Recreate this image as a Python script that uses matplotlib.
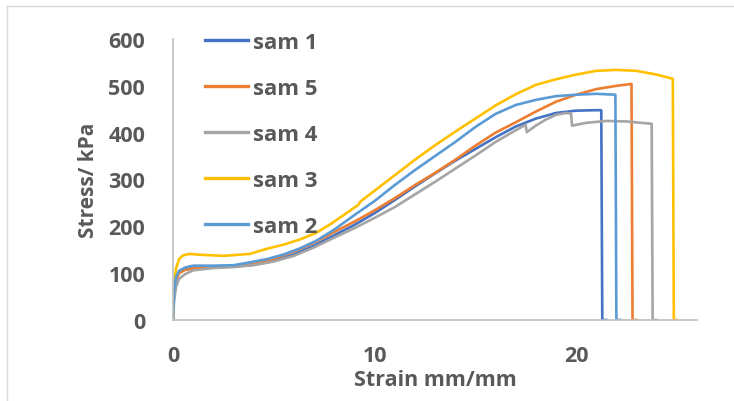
import matplotlib.pyplot as plt
from matplotlib.lines import Line2D

# stress-strain readings, one pair of lists per sample
sam1_strain = [0, 0.05, 0.15, 0.3, 0.6, 1.0, 2.0, 3.0, 4.0, 5.0, 6.0, 7.0, 8.0, 9.0, 10.0, 11.0, 12.0, 13.0, 14.0, 15.0, 16.0, 17.0, 18.0, 19.0, 20.0, 21.0, 21.25, 21.3, 21.5]
sam1_stress = [0, 55, 88, 102, 108, 111, 113, 115, 118, 126, 140, 159, 181, 203, 228, 256, 285, 313, 340, 365, 390, 413, 430, 442, 447, 448, 448, 0, 0]

sam5_strain = [0, 0.05, 0.15, 0.3, 0.6, 1.0, 2.0, 3.0, 4.0, 5.0, 6.0, 7.0, 8.0, 9.0, 10.0, 11.0, 12.0, 13.0, 14.0, 15.0, 16.0, 17.0, 18.0, 19.0, 20.0, 21.0, 22.0, 22.75, 22.8, 23.0]
sam5_stress = [0, 50, 85, 100, 107, 110, 112, 114, 119, 131, 146, 165, 188, 210, 234, 260, 288, 314, 342, 372, 400, 422, 445, 466, 481, 493, 500, 504, 0, 0]

sam4_strain = [0, 0.05, 0.15, 0.3, 0.6, 1.0, 2.0, 3.0, 4.0, 5.0, 6.0, 7.0, 8.0, 9.0, 10.0, 11.0, 12.0, 13.0, 14.0, 15.0, 16.0, 17.0, 17.5, 17.55, 18.0, 18.5, 19.0, 19.5, 19.75, 19.8, 20.5, 21.5, 22.5, 23.75, 23.8, 24.0]
sam4_stress = [0, 40, 70, 88, 98, 106, 111, 113, 117, 125, 137, 155, 176, 196, 218, 241, 268, 295, 323, 351, 380, 405, 417, 401, 415, 428, 438, 442, 441, 415, 421, 425, 424, 419, 0, 0]

sam3_strain = [0, 0.05, 0.15, 0.3, 0.5, 0.8, 1.5, 2.5, 3.8, 4.65, 5.5, 6.3, 7.1, 7.9, 8.5, 9.2, 9.3, 10.0, 11.0, 12.0, 13.0, 14.0, 15.0, 16.0, 17.0, 18.0, 19.0, 20.0, 21.0, 22.0, 23.0, 24.0, 24.8, 24.85, 25.0]
sam3_stress = [0, 70, 110, 130, 138, 141, 139, 137, 141, 152, 161, 172, 186, 207, 225, 246, 253, 276, 309, 342, 373, 402, 430, 458, 482, 502, 514, 524, 532, 534, 532, 524, 515, 0, 0]

sam2_strain = [0, 0.05, 0.15, 0.3, 0.6, 1.0, 2.0, 3.0, 3.8, 4.65, 5.5, 6.3, 7.1, 8.0, 9.0, 10.0, 11.0, 12.0, 13.0, 14.0, 15.0, 16.0, 17.0, 18.0, 19.0, 20.0, 21.0, 21.95, 22.0, 22.2]
sam2_stress = [0, 60, 92, 105, 112, 116, 116, 117, 123, 130, 140, 153, 169, 193, 224, 254, 288, 320, 350, 380, 412, 440, 459, 470, 478, 481, 483, 481, 0, 0]

labels = ['sam 1', 'sam 5', 'sam 4', 'sam 3', 'sam 2']
colors = ['#4472C4', '#ED7D31', '#A5A5A5', '#FFC000', '#5B9BD5']
series = [(sam1_strain, sam1_stress), (sam5_strain, sam5_stress), (sam4_strain, sam4_stress),
          (sam3_strain, sam3_stress), (sam2_strain, sam2_stress)]

txt = '#595959'
fam = ['Open Sans', 'DejaVu Sans']
plt.rcParams['font.family'] = fam
plt.rcParams['font.weight'] = 'bold'

fig = plt.figure(figsize=(7.34, 4.02), dpi=100)
ax = fig.add_axes([173 / 734, 81 / 402, 524 / 734, 281 / 402])

for (x, y), lab, c in zip(series, labels, colors):
    ax.plot(x, y, color=c, lw=1.9, label=lab, solid_joinstyle='round')

ax.set_xlim(0, 26)
ax.set_ylim(0, 600)
ax.set_xticks([0, 10, 20])
ax.set_yticks(range(0, 601, 100))
ax.tick_params(length=0, labelsize=15.5, labelcolor=txt)
ax.tick_params(axis='y', pad=20)
ax.tick_params(axis='x', pad=18)
for s in ['top', 'right']:
    ax.spines[s].set_visible(False)
for s in ['left', 'bottom']:
    ax.spines[s].set_color('#BFBFBF')
    ax.spines[s].set_linewidth(1.2)

ax.set_xlabel('Strain mm/mm', fontsize=15.5, color=txt, fontweight='bold', labelpad=2)
ax.set_ylabel('Stress/ kPa', fontsize=15, color=txt, fontweight='bold', labelpad=7)

leg = ax.legend(loc='upper left', bbox_to_anchor=(205 / 734, 1 - 33 / 402),
                bbox_transform=fig.transFigure, frameon=False,
                prop={'size': 16, 'weight': 'bold', 'family': fam},
                handlelength=1.94, handletextpad=0.23, labelspacing=1.12,
                borderpad=0, borderaxespad=0)
for t in leg.get_texts():
    t.set_color(txt)
for h in leg.get_lines():
    h.set_linewidth(2.4)

# thin frame around the chart area (left and top edges visible)
fig.add_artist(Line2D([7 / 734, 7 / 734], [0, 1 - 7 / 402], transform=fig.transFigure, color='#D9D9D9', lw=1))
fig.add_artist(Line2D([7 / 734, 1], [1 - 7 / 402, 1 - 7 / 402], transform=fig.transFigure, color='#D9D9D9', lw=1))

fig.savefig('out.png', dpi=100)
